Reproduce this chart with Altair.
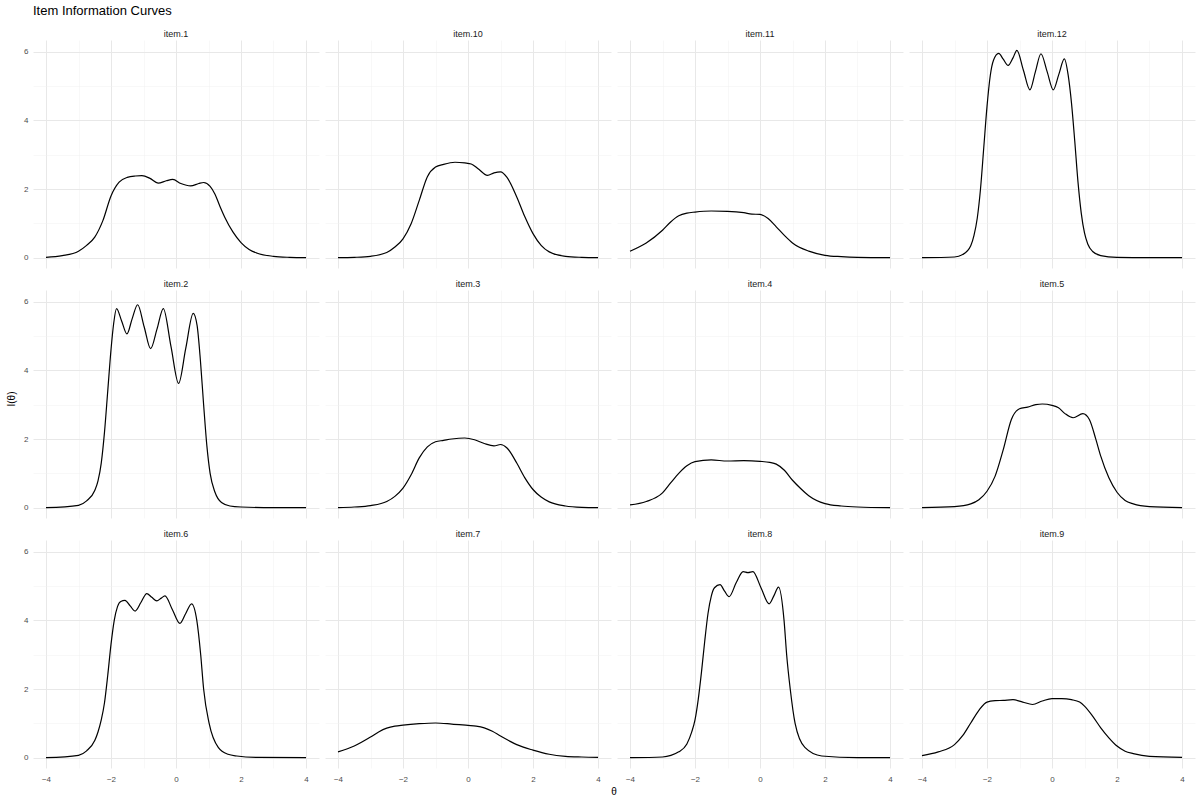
import altair as alt
import pandas as pd

FONT = "Liberation Sans"

item1_theta = [-4, -3.5, -3, -2.75, -2.5, -2.25, -2, -1.75, -1.5, -1.25, -1.05, -0.8, -0.55, -0.3, -0.1, 0.15, 0.45, 0.7, 0.85, 1.05, 1.2, 1.35, 1.5, 1.75, 2, 2.25, 2.5, 3, 3.5, 4]
item1_info = [0.01, 0.06, 0.19, 0.36, 0.6, 1.08, 1.8, 2.2, 2.34, 2.38, 2.39, 2.31, 2.17, 2.24, 2.28, 2.16, 2.09, 2.16, 2.19, 2.08, 1.85, 1.5, 1.18, 0.75, 0.44, 0.24, 0.13, 0.04, 0.01, 0.0]

item10_theta = [-4, -3.5, -3, -2.5, -2.25, -2, -1.75, -1.5, -1.25, -1, -0.75, -0.4, -0.1, 0.1, 0.3, 0.6, 0.8, 1.0, 1.2, 1.5, 1.75, 2, 2.25, 2.5, 3, 3.5, 4]
item10_info = [0.0, 0.01, 0.04, 0.15, 0.31, 0.55, 0.99, 1.67, 2.36, 2.64, 2.72, 2.78, 2.76, 2.73, 2.60, 2.40, 2.47, 2.50, 2.34, 1.77, 1.19, 0.70, 0.36, 0.17, 0.04, 0.01, 0.0]

item11_theta = [-4, -3.5, -3, -2.75, -2.5, -2.25, -2, -1.5, -1, -0.5, -0.25, 0, 0.25, 0.5, 0.75, 1, 1.5, 2, 2.5, 3, 4]
item11_info = [0.19, 0.43, 0.80, 1.04, 1.22, 1.30, 1.33, 1.36, 1.35, 1.31, 1.27, 1.26, 1.14, 0.90, 0.65, 0.43, 0.19, 0.07, 0.03, 0.01, 0.0]

item12_theta = [-4, -3, -2.75, -2.5, -2.4, -2.3, -2.2, -2.1, -2.0, -1.9, -1.8, -1.64, -1.5, -1.35, -1.2, -1.08, -0.88, -0.68, -0.51, -0.34, -0.15, 0.04, 0.21, 0.38, 0.5, 0.6, 0.7, 0.8, 0.9, 1.0, 1.1, 1.25, 1.5, 2, 3, 4]
item12_info = [0.0, 0.02, 0.09, 0.35, 0.65, 1.15, 2.0, 3.2, 4.4, 5.3, 5.75, 5.95, 5.78, 5.60, 5.82, 6.04, 5.46, 4.89, 5.42, 5.94, 5.42, 4.89, 5.34, 5.79, 5.3, 4.5, 3.4, 2.2, 1.3, 0.72, 0.4, 0.18, 0.06, 0.01, 0.0, 0.0]

item2_theta = [-4, -3, -2.75, -2.5, -2.4, -2.3, -2.2, -2.1, -2.0, -1.92, -1.83, -1.67, -1.51, -1.35, -1.18, -0.98, -0.78, -0.585, -0.39, -0.155, 0.08, 0.3, 0.53, 0.65, 0.75, 0.85, 0.95, 1.05, 1.2, 1.4, 1.66, 2, 3, 4]
item2_info = [0.0, 0.07, 0.2, 0.5, 0.78, 1.3, 2.2, 3.4, 4.6, 5.35, 5.80, 5.43, 5.06, 5.5, 5.91, 5.27, 4.63, 5.2, 5.80, 4.7, 3.62, 4.64, 5.66, 5.3, 4.3, 3.0, 1.8, 1.0, 0.45, 0.15, 0.05, 0.02, 0.0, 0.0]

item3_theta = [-4, -3.5, -3, -2.5, -2.25, -2, -1.75, -1.5, -1.25, -1, -0.75, -0.5, -0.1, 0.2, 0.5, 0.8, 1.0, 1.2, 1.5, 1.75, 2, 2.25, 2.5, 3, 3.5, 4]
item3_info = [0.0, 0.02, 0.06, 0.18, 0.33, 0.57, 0.96, 1.45, 1.77, 1.92, 1.96, 2.0, 2.03, 1.98, 1.87, 1.80, 1.84, 1.74, 1.30, 0.87, 0.53, 0.31, 0.17, 0.05, 0.01, 0.0]

item4_theta = [-4, -3.5, -3, -2.75, -2.5, -2.25, -2, -1.5, -1, -0.5, 0, 0.3, 0.5, 0.75, 1, 1.25, 1.5, 2, 2.5, 3, 4]
item4_info = [0.08, 0.18, 0.43, 0.72, 1.0, 1.22, 1.34, 1.39, 1.36, 1.37, 1.35, 1.32, 1.27, 1.09, 0.80, 0.56, 0.35, 0.12, 0.05, 0.02, 0.0]

item5_theta = [-4, -3, -2.5, -2.25, -2, -1.75, -1.5, -1.25, -1, -0.75, -0.5, -0.3, 0, 0.2, 0.4, 0.65, 0.95, 1.15, 1.35, 1.5, 1.75, 2, 2.25, 2.5, 3, 4]
item5_info = [0.0, 0.03, 0.11, 0.23, 0.48, 0.92, 1.69, 2.57, 2.88, 2.93, 3.0, 3.02, 2.98, 2.91, 2.74, 2.62, 2.74, 2.57, 1.99, 1.50, 0.87, 0.45, 0.21, 0.11, 0.03, 0.0]

item6_theta = [-4, -3, -2.75, -2.5, -2.4, -2.3, -2.2, -2.1, -2.0, -1.9, -1.8, -1.7, -1.57, -1.41, -1.26, -1.08, -0.9, -0.745, -0.59, -0.465, -0.34, -0.11, 0.12, 0.3, 0.48, 0.64, 0.76, 0.85, 1.02, 1.3, 1.6, 1.87, 2.5, 4]
item6_info = [0.0, 0.07, 0.2, 0.5, 0.75, 1.1, 1.6, 2.4, 3.3, 4.0, 4.4, 4.55, 4.58, 4.42, 4.27, 4.52, 4.78, 4.67, 4.57, 4.64, 4.71, 4.31, 3.91, 4.2, 4.48, 4.0, 3.0, 2.0, 1.0, 0.3, 0.1, 0.05, 0.01, 0.0]

item7_theta = [-4, -3.5, -3, -2.75, -2.5, -2.25, -2, -1.5, -1, -0.5, 0, 0.25, 0.5, 0.75, 1, 1.25, 1.5, 2, 2.5, 3, 3.5, 4]
item7_info = [0.17, 0.34, 0.6, 0.75, 0.86, 0.92, 0.95, 0.99, 1.01, 0.98, 0.94, 0.92, 0.87, 0.77, 0.63, 0.5, 0.38, 0.22, 0.10, 0.04, 0.02, 0.01]

item8_theta = [-4, -3, -2.5, -2.25, -2.1, -2.0, -1.9, -1.8, -1.7, -1.6, -1.5, -1.4, -1.23, -1.09, -0.95, -0.73, -0.52, -0.37, -0.22, 0.03, 0.28, 0.43, 0.57, 0.74, 0.82, 0.93, 1.08, 1.38, 1.9, 3, 4]
item8_info = [0.0, 0.02, 0.17, 0.4, 0.75, 1.1, 1.7, 2.5, 3.4, 4.2, 4.7, 4.95, 5.04, 4.85, 4.69, 5.1, 5.42, 5.39, 5.42, 4.95, 4.48, 4.72, 4.97, 4.0, 3.0, 2.0, 1.0, 0.3, 0.05, 0.0, 0.0]

item9_theta = [-4, -3.5, -3, -2.75, -2.5, -2.25, -2, -1.75, -1.5, -1.2, -0.9, -0.6, -0.3, 0, 0.3, 0.6, 0.85, 1.0, 1.25, 1.5, 1.75, 2, 2.25, 2.5, 3, 4]
item9_info = [0.06, 0.17, 0.38, 0.64, 1.01, 1.38, 1.62, 1.66, 1.67, 1.69, 1.62, 1.55, 1.65, 1.72, 1.72, 1.69, 1.62, 1.50, 1.21, 0.87, 0.58, 0.34, 0.19, 0.12, 0.04, 0.01]

series = [
    ("item.1", item1_theta, item1_info),
    ("item.10", item10_theta, item10_info),
    ("item.11", item11_theta, item11_info),
    ("item.12", item12_theta, item12_info),
    ("item.2", item2_theta, item2_info),
    ("item.3", item3_theta, item3_info),
    ("item.4", item4_theta, item4_info),
    ("item.5", item5_theta, item5_info),
    ("item.6", item6_theta, item6_info),
    ("item.7", item7_theta, item7_info),
    ("item.8", item8_theta, item8_info),
    ("item.9", item9_theta, item9_info),
]

rows = []
for k, (name, th, inf) in enumerate(series):
    for j, (t, v) in enumerate(zip(th, inf)):
        rows.append({"item": name, "theta": t, "info": v,
                     "r": k // 4, "c": k % 4, "first": j == 0})
df = pd.DataFrame(rows)

PW, PH = 286, 228

grid_w = {"condition": {"test": "datum.value % 2 === 0", "value": 1.0}, "value": 0.5}
grid_c = {"condition": {"test": "datum.value % 2 === 0", "value": "#e8e8e8"}, "value": "#f0f0f0"}

line = alt.Chart().mark_line(color="black", strokeWidth=1.2, interpolate="monotone").encode(
    x=alt.X("theta:Q", title=None,
            scale=alt.Scale(domain=[-4.4, 4.4], nice=False, zero=False),
            axis=alt.Axis(values=list(range(-4, 5)),
                          labelExpr="datum.value % 2 === 0 ? datum.label : ''",
                          gridWidth=grid_w, gridColor=grid_c, labelPadding=7)),
    y=alt.Y("info:Q", title=None,
            scale=alt.Scale(domain=[-0.3, 6.34], nice=False, zero=False),
            axis=alt.Axis(values=list(range(0, 7)),
                          labelExpr="datum.value % 2 === 0 ? datum.label : ''",
                          gridWidth=grid_w, gridColor=grid_c, labelPadding=5)),
    order="theta:Q",
)

strip = alt.Chart().mark_text(fontSize=9, font=FONT, color="#1a1a1a", baseline="bottom",
                              align="center").encode(
    text="item:N",
    x=alt.value(PW / 2),
    y=alt.value(-1),
).transform_filter("datum.first")

layer = alt.layer(line, strip, data=df).properties(width=PW, height=PH)

chart = layer.facet(
    row=alt.Row("r:O", header=alt.Header(labels=False, title="I(θ)", titleOrient="left",
                                         titleFont=FONT, titleFontSize=10, titleFontWeight="normal",
                                         titleColor="black", titlePadding=-4, labelPadding=0)),
    column=alt.Column("c:O", header=alt.Header(labels=False, title="θ", titleOrient="bottom",
                                               titleFont=FONT, titleFontSize=10, titleFontWeight="normal",
                                               titleColor="black", titlePadding=-6, labelPadding=0)),
    spacing={"row": 12, "column": 6},
).properties(
    title=alt.TitleParams("Item Information Curves", anchor="start", frame="group",
                          fontSize=13, font=FONT, fontWeight="normal", color="black", offset=12),
    padding={"left": 7, "top": 5, "right": 5, "bottom": 4},
    background="white",
).configure_view(strokeWidth=0).configure_axis(
    domain=False, ticks=False, labelColor="#4d4d4d", labelFontSize=8, labelFont=FONT,
)

chart.save("out.html", embed_options={"renderer": "svg", "actions": False})
